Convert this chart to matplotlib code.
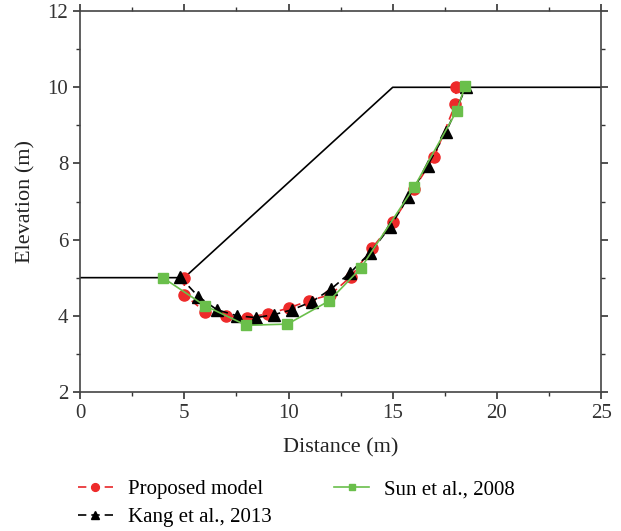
import matplotlib
matplotlib.use("Agg")
import matplotlib.pyplot as plt
from matplotlib.ticker import MultipleLocator

plt.rcParams['font.family'] = ['Liberation Serif', 'DejaVu Serif']

# Slope profile
slope_x = [0, 5, 15, 25]
slope_y = [5, 5, 10, 10]

# Proposed model
prop_x = [5.0, 5.0, 6.0, 7.0, 8.0, 9.0, 10.0, 11.0, 12.0, 13.0, 14.0, 15.0, 16.0, 17.0, 18.0, 18.05]
prop_y = [5.0, 4.55, 4.1, 4.0, 3.95, 4.05, 4.2, 4.4, 4.55, 5.03, 5.77, 6.45, 7.32, 8.18, 9.55, 10.0]

# Kang et al., 2013
kang_x = [4.77, 5.68, 6.56, 7.52, 8.45, 9.31, 10.19, 11.12, 12.04, 12.96, 13.92, 14.88, 15.75, 16.67, 17.56, 18.52]
kang_y = [5.03, 4.5, 4.16, 4.0, 3.95, 4.03, 4.16, 4.37, 4.7, 5.13, 5.66, 6.34, 7.12, 7.94, 8.83, 10.0]

# Sun et al., 2008
sun_x = [3.97, 6.0, 7.97, 9.95, 11.95, 13.47, 16.04, 18.07, 18.47]
sun_y = [5.0, 4.26, 3.75, 3.78, 4.39, 5.25, 7.39, 9.38, 10.03]

fig = plt.figure(figsize=(6.21, 5.31), dpi=100)
ax = fig.add_axes([0.129, 0.262, 0.839, 0.717])

ax.plot(slope_x, slope_y, color='black', lw=1.2, zorder=1)
l1, = ax.plot(prop_x, prop_y, color='#e8262a', ls=(0, (5, 3)), lw=1.2, marker='o', ms=8,
              markerfacecolor='#ee2a2a', markeredgecolor='#ee2a2a', label='Proposed model', zorder=2)
l2, = ax.plot(kang_x, kang_y, color='black', ls=(0, (5, 3)), lw=1.2, marker='^', ms=8,
              label='Kang et al., 2013', zorder=3)
l3, = ax.plot(sun_x, sun_y, color='#6abf4b', ls='-', lw=1.2, marker='s', ms=7,
              markerfacecolor='#6abf4b', markeredgecolor='#6abf4b', label='Sun et al., 2008', zorder=4)

ax.set_xlim(0, 25)
ax.set_ylim(2, 12)
ax.xaxis.set_major_locator(MultipleLocator(5))
ax.xaxis.set_minor_locator(MultipleLocator(2.5))
ax.yaxis.set_major_locator(MultipleLocator(2))
ax.yaxis.set_minor_locator(MultipleLocator(1))
ax.tick_params(which='both', direction='out', top=True, right=True, labelsize=15, colors='#333333')
ax.tick_params(which='major', length=5, width=1.2)
ax.tick_params(which='minor', length=3, width=1.0)
for s in ax.spines.values():
    s.set_color('#444444')
    s.set_linewidth(1.2)

ax.set_xlabel('Distance (m)', fontsize=16, color='#222222', labelpad=11)
ax.set_ylabel('Elevation (m)', fontsize=16, color='#222222', labelpad=9)

fig.legend(handles=[l1, l2, l3], ncol=2, loc='upper left', bbox_to_anchor=(0.095, 0.132),
           frameon=False, fontsize=15, handlelength=1.7, markerscale=0.7,
           columnspacing=3.0, labelspacing=0.4, handletextpad=0.7)

fig.savefig('out.png', dpi=100)
